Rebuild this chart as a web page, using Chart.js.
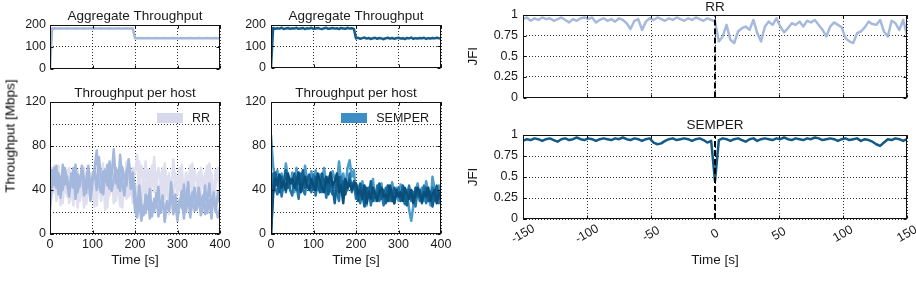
<!DOCTYPE html>
<html>
<head>
<meta charset="utf-8">
<script src="https://cdn.jsdelivr.net/npm/chart.js@4.4.1/dist/chart.umd.min.js"></script>
<style>
  body { margin: 0; background: #fff; width: 916px; height: 282px; overflow: hidden; position: relative;
         font-family: "Liberation Sans", Arial, sans-serif; }
  canvas { position: absolute; }
  .ylab { position: absolute; font-size: 13.5px; color: #000; white-space: nowrap;
          transform: translate(-50%, -50%) rotate(-90deg); }
</style>
</head>
<body>
<canvas id="aggRR" width="232" height="80" style="left:0;top:0"></canvas>
<canvas id="hostRR" width="240" height="202" style="left:0;top:80px"></canvas>
<canvas id="aggSEM" width="232" height="80" style="left:230px;top:0"></canvas>
<canvas id="hostSEM" width="232" height="202" style="left:230px;top:80px"></canvas>
<canvas id="jfiRR" width="456" height="110" style="left:460px;top:0"></canvas>
<canvas id="jfiSEM" width="456" height="172" style="left:460px;top:110px"></canvas>
<div class="ylab" style="left:10px;top:136px">Throughput [Mbps]</div>

<script>
// time axis of the throughput plots, seconds
const hostTime = [0, 5, 10, 15, 20, 25, 30, 35, 40, 45,
  50, 55, 60, 65, 70, 75, 80, 85, 90, 95,
  100, 105, 110, 115, 120, 125, 130, 135, 140, 145,
  150, 155, 160, 165, 170, 175, 180, 185, 190, 195,
  200, 205, 210, 215, 220, 225, 230, 235, 240, 245,
  250, 255, 260, 265, 270, 275, 280, 285, 290, 295,
  300, 305, 310, 315, 320, 325, 330, 335, 340, 345,
  350, 355, 360, 365, 370, 375, 380, 385, 390, 395,
  400];

// aggregate throughput, Mbps
const rrTotal = [0, 184, 185, 184, 184, 185, 184, 184, 185, 184,
  184, 184, 185, 184, 184, 184, 185, 184, 184, 184,
  185, 184, 184, 184, 185, 184, 184, 184, 185, 184,
  184, 184, 185, 184, 184, 184, 185, 184, 184, 184,
  139, 139, 140, 139, 139, 139, 140, 139, 139, 139,
  140, 139, 139, 139, 140, 139, 139, 139, 140, 139,
  139, 139, 140, 139, 139, 139, 140, 139, 139, 139,
  140, 139, 139, 139, 140, 139, 139, 139, 140, 139,
  139];
const semTotal = [0, 186, 182, 185, 183, 187, 181, 184, 186, 182,
  185, 183, 187, 182, 184, 186, 181, 185, 183, 187,
  182, 184, 186, 183, 181, 185, 187, 182, 184, 186,
  183, 185, 181, 186, 184, 182, 187, 183, 185, 182,
  137, 140, 135, 138, 141, 136, 139, 134, 138, 140,
  135, 139, 137, 133, 138, 140, 136, 139, 135, 138,
  140, 136, 138, 134, 139, 137, 141, 135, 138, 136,
  139, 137, 140, 135, 138, 136, 139, 137, 140, 138,
  137];

// per-host throughput, RR (two blue hosts, two lavender hosts)
const rrHostA = [30, 58, 44, 62, 36, 52, 40, 60, 47, 34,
  55, 42, 63, 38, 50, 58, 35, 48, 62, 44,
  52, 60, 76, 45, 38, 57, 49, 63, 41, 54,
  77, 46, 58, 39, 61, 50, 44, 68, 53, 47,
  22, 15, 30, 12, 26, 19, 34, 14, 28, 20,
  37, 16, 25, 32, 13, 29, 21, 40, 18, 27,
  12, 31, 24, 45, 20, 36, 15, 29, 42, 22,
  33, 17, 26, 44, 19, 31, 14, 38, 23, 15,
  24];
const rrHostB = [22, 48, 60, 42, 55, 33, 63, 45, 52, 38,
  46, 60, 32, 54, 43, 62, 50, 37, 57, 30,
  47, 58, 40, 70, 52, 36, 58, 44, 66, 39,
  50, 60, 42, 72, 48, 35, 57, 64, 41, 56,
  38, 20, 44, 25, 17, 36, 23, 41, 16, 32,
  24, 43, 19, 35, 11, 30, 22, 47, 26, 36,
  18, 28, 39, 14, 33, 47, 25, 38, 21, 30,
  42, 26, 35, 18, 29, 46, 24, 34, 20, 38,
  28];
const rrHostC = [25, 40, 62, 30, 48, 26, 55, 38, 58, 28,
  44, 32, 56, 24, 50, 36, 60, 27, 45, 33,
  56, 25, 42, 60, 30, 52, 22, 47, 35, 58,
  28, 54, 38, 46, 24, 56, 32, 50, 36, 60,
  55, 72, 40, 62, 48, 66, 35, 58, 44, 70,
  38, 60, 50, 28, 64, 42, 55, 33, 68, 46,
  52, 40, 63, 30, 56, 45, 62, 36, 58, 48,
  34, 60, 42, 55, 30, 64, 47, 38, 58, 50,
  44];
const rrHostD = [35, 60, 38, 50, 62, 42, 28, 57, 34, 60,
  40, 26, 52, 58, 30, 45, 24, 56, 38, 55,
  32, 48, 26, 55, 44, 64, 36, 24, 56, 42,
  62, 30, 48, 25, 56, 40, 66, 34, 46, 28,
  45, 30, 66, 20, 52, 35, 58, 25, 62, 38,
  56, 22, 45, 60, 32, 50, 18, 44, 30, 55,
  36, 60, 22, 48, 40, 26, 52, 64, 30, 42,
  56, 38, 24, 50, 62, 35, 55, 28, 46, 60,
  40];

// per-host throughput, SEMPER (light to dark)
const semHostA = [90, 62, 48, 58, 40, 55, 46, 64, 50, 42,
  56, 38, 60, 47, 53, 41, 62, 49, 44, 57,
  46, 58, 40, 54, 48, 60, 43, 52, 39, 57,
  50, 44, 66, 48, 55, 42, 60, 67, 52, 58,
  36, 44, 30, 48, 38, 26, 42, 34, 50, 30,
  40, 33, 46, 28, 38, 44, 31, 47, 36, 42,
  30, 45, 35, 28, 40, 22, 12, 26, 38, 46,
  34, 42, 30, 48, 37, 26, 52, 40, 33, 44,
  38];
const semHostB = [30, 55, 42, 36, 50, 34, 47, 38, 53, 40,
  35, 50, 44, 32, 55, 40, 36, 52, 42, 38,
  54, 35, 47, 42, 38, 50, 33, 45, 40, 36,
  48, 38, 30, 52, 36, 44, 40, 55, 38, 46,
  32, 40, 28, 44, 35, 30, 42, 26, 38, 33,
  44, 30, 37, 26, 42, 35, 30, 40, 28, 36,
  42, 32, 38, 27, 35, 44, 30, 38, 25, 40,
  30, 36, 44, 28, 38, 32, 42, 30, 36, 28,
  34];
const semHostC = [0, 44, 56, 48, 38, 52, 44, 58, 42, 50,
  46, 55, 40, 50, 45, 58, 42, 48, 54, 44,
  40, 52, 46, 38, 55, 44, 50, 36, 48, 42,
  28, 46, 52, 40, 48, 36, 45, 50, 42, 48,
  40, 30, 46, 36, 25, 42, 34, 48, 30, 38,
  34, 46, 32, 40, 28, 44, 36, 30, 42, 35,
  38, 30, 44, 34, 26, 40, 36, 30, 42, 34,
  40, 28, 36, 42, 30, 38, 25, 36, 44, 32,
  36];
const semHostD = [0, 36, 50, 44, 54, 42, 48, 40, 55, 46,
  50, 42, 48, 56, 38, 46, 52, 44, 40, 50,
  44, 40, 55, 48, 42, 38, 52, 46, 56, 44,
  48, 55, 38, 44, 28, 50, 42, 46, 40, 45,
  46, 36, 40, 32, 44, 28, 38, 32, 42, 36,
  30, 38, 42, 34, 36, 30, 44, 35, 28, 40,
  34, 38, 30, 42, 36, 32, 40, 28, 36, 42,
  36, 30, 38, 34, 42, 30, 36, 40, 28, 38,
  34];

// Jain's fairness index around the change at t = 0
const jfiTime = [-150, -147, -144, -141, -138, -135, -132, -129, -126, -123,
  -120, -117, -114, -111, -108, -105, -102, -99, -96, -93,
  -90, -87, -84, -81, -78, -75, -72, -69, -66, -63,
  -60, -57, -54, -51, -48, -45, -42, -39, -36, -33,
  -30, -27, -24, -21, -18, -15, -12, -9, -6, -3,
  0,
  3, 6, 9, 12, 15, 18, 21, 24, 27, 30,
  33, 36, 39, 42, 45, 48, 51, 54, 57, 60,
  63, 66, 69, 72, 75, 78, 81, 84, 87, 90,
  93, 96, 99, 102, 105, 108, 111, 114, 117, 120,
  123, 126, 129, 132, 135, 138, 141, 144, 147, 150];
const rrJfi = [0.95, 0.97, 0.93, 0.96, 0.94, 0.97, 0.95, 0.96, 0.93, 0.95,
  0.97, 0.94, 0.91, 0.95, 0.93, 0.96, 0.97, 0.95, 0.97, 0.91,
  0.94, 0.96, 0.93, 0.95, 0.92, 0.96, 0.94, 0.90, 0.83, 0.93,
  0.95, 0.82, 0.92, 0.96, 0.94, 0.97, 0.95, 0.93, 0.96, 0.94,
  0.97, 0.95, 0.93, 0.96, 0.94, 0.97, 0.95, 0.93, 0.96, 0.94,
  0.92,
  0.68, 0.74, 0.88, 0.70, 0.66, 0.80, 0.84, 0.86, 0.82, 0.94,
  0.78, 0.68, 0.86, 0.92, 0.88, 0.96, 0.86, 0.79, 0.84, 0.90,
  0.88, 0.92, 0.86, 0.93, 0.91, 0.94, 0.88, 0.82, 0.74, 0.86,
  0.91, 0.88, 0.85, 0.72, 0.68, 0.66, 0.78, 0.80, 0.85, 0.92,
  0.89, 0.88, 0.94, 0.80, 0.74, 0.93, 0.90, 0.82, 0.94, 0.76];
const semJfi = [0.93, 0.95, 0.94, 0.96, 0.95, 0.93, 0.95, 0.96, 0.94, 0.92,
  0.95, 0.96, 0.94, 0.95, 0.97, 0.95, 0.94, 0.96, 0.95, 0.93,
  0.95, 0.96, 0.95, 0.94, 0.96, 0.95, 0.97, 0.95, 0.94, 0.96,
  0.95, 0.93, 0.95, 0.96, 0.91, 0.89, 0.90, 0.93, 0.95, 0.96,
  0.94, 0.95, 0.96, 0.95, 0.93, 0.95, 0.96, 0.94, 0.91, 0.93,
  0.45,
  0.94, 0.96, 0.95, 0.93, 0.95, 0.96, 0.94, 0.92, 0.95, 0.96,
  0.93, 0.95, 0.96, 0.95, 0.94, 0.96, 0.95, 0.97, 0.95, 0.94,
  0.96, 0.95, 0.94, 0.96, 0.95, 0.97, 0.96, 0.94, 0.95, 0.96,
  0.95, 0.93, 0.95, 0.96, 0.94, 0.95, 0.96, 0.93, 0.95, 0.94,
  0.92, 0.89, 0.87, 0.91, 0.95, 0.94, 0.96, 0.95, 0.93, 0.95];

// vertical marker at t = 0
const markerX = [0, 0];
const markerY = [0, 1];

// grid positions and the subset that carries labels
const hostXTicks = [0, 100, 200, 300, 400];
const aggYTicks = [0, 50, 100, 150, 200];
const aggYLabels = [0, 100, 200];
const hostYTicks = [0, 20, 40, 60, 80, 100, 120];
const hostYLabels = [0, 40, 80, 120];
const jfiTicks = [-150, -100, -50, 0, 50, 100, 150];
const jfiYTicks = [0, 0.25, 0.5, 0.75, 1];

const FONT = '"Liberation Sans", Arial, sans-serif';
Chart.defaults.font.family = FONT;
Chart.defaults.font.size = 12.5;
Chart.defaults.color = '#1a1a1a';
Chart.defaults.animation = false;
Chart.defaults.events = [];
Chart.defaults.plugins.legend.display = false;
Chart.defaults.plugins.tooltip.enabled = false;
Chart.defaults.elements.point.radius = 0;
Chart.defaults.elements.line.tension = 0;
Chart.defaults.elements.line.borderJoinStyle = 'round';

function pts(xs, ys) {
  return xs.map((x, i) => ({ x: x, y: ys[i] }));
}

function line(xs, ys, color, width) {
  return { data: pts(xs, ys), borderColor: color, backgroundColor: color, borderWidth: width, fill: false };
}

function marker() {
  return { data: pts(markerX, markerY), borderColor: '#000', borderWidth: 2, borderDash: [6, 3], fill: false };
}

function title(text, top, bottom) {
  return { display: true, text: text, fullSize: false, color: '#1a1a1a',
           font: { size: 13.5, weight: 'normal', lineHeight: 1 }, padding: { top: top, bottom: bottom } };
}

// o: width|height (fixed axis size), pad, labels (values to print), hide, title, titlePad
function axis(min, max, tickVals, o) {
  const shown = o.labels || tickVals;
  const a = {
    type: 'linear', min: min, max: max,
    grid: { color: 'rgba(0,0,0,0.8)', drawTicks: false },
    border: { display: false, dash: [1, 2] },
    ticks: {
      padding: o.pad || 4,
      display: !o.hide,
      callback: v => (shown.includes(v) ? String(v) : '')
    },
    afterBuildTicks: s => { s.ticks = tickVals.map(v => ({ value: v })); },
    afterFit: o.width ? (s => { s.width = o.width; }) : (s => { s.height = o.height; })
  };
  if (o.title) {
    a.title = { display: true, text: o.title, color: '#1a1a1a', font: { size: 13.5, lineHeight: 1 }, padding: o.titlePad };
  }
  return a;
}

// box around the plot area with small inward ticks
const frame = {
  id: 'frame',
  afterDatasetsDraw(chart) {
    const { ctx, chartArea: a } = chart;
    const sx = chart.scales.x, sy = chart.scales.y;
    ctx.save();
    ctx.strokeStyle = '#111';
    ctx.lineWidth = 1;
    ctx.setLineDash([]);
    const l = Math.round(a.left) + 0.5, t = Math.round(a.top) + 0.5;
    const r = Math.round(a.right) - 0.5, b = Math.round(a.bottom) - 0.5;
    ctx.strokeRect(l, t, r - l, b - t);
    ctx.beginPath();
    sx.ticks.forEach(tk => {
      if (tk.label === '') return;
      const px = Math.round(sx.getPixelForValue(tk.value)) + 0.5;
      ctx.moveTo(px, t); ctx.lineTo(px, t + 3);
      ctx.moveTo(px, b); ctx.lineTo(px, b - 3);
    });
    sy.ticks.forEach(tk => {
      if (tk.label === '') return;
      const py = Math.round(sy.getPixelForValue(tk.value)) + 0.5;
      ctx.moveTo(l, py); ctx.lineTo(l + 3, py);
      ctx.moveTo(r, py); ctx.lineTo(r - 3, py);
    });
    ctx.stroke();
    ctx.restore();
  }
};

// single legend entry inside the top right of the plot area
const boxLegend = {
  id: 'boxLegend',
  afterDraw(chart, args, o) {
    if (!o || !o.text) return;
    const { ctx, chartArea: a } = chart;
    ctx.save();
    ctx.font = '12.5px ' + FONT;
    const w = ctx.measureText(o.text).width;
    const tx = a.right - o.right - w;
    ctx.fillStyle = o.color;
    ctx.fillRect(Math.round(tx - 9 - 26), Math.round(a.top + 11), 26, 10);
    ctx.fillStyle = '#1a1a1a';
    ctx.textBaseline = 'middle';
    ctx.fillText(o.text, tx, a.top + 16.5);
    ctx.restore();
  }
};

// slanted time labels under the lower JFI plot
const slantTicks = {
  id: 'slantTicks',
  afterDraw(chart) {
    const sx = chart.scales.x;
    const ctx = chart.ctx;
    ctx.save();
    ctx.font = '12.5px ' + FONT;
    ctx.fillStyle = '#1a1a1a';
    ctx.textAlign = 'center';
    ctx.textBaseline = 'middle';
    jfiTicks.forEach(v => {
      ctx.save();
      ctx.translate(sx.getPixelForValue(v), chart.chartArea.bottom + 15);
      ctx.rotate(-Math.PI / 6);
      ctx.fillText(String(v), 0, 0);
      ctx.restore();
    });
    ctx.restore();
  }
};

const rrBlue = '#a3b8dc';
const rrLav = '#dfdfef';
const semColors = ['#0b4e79', '#0f6192', '#2176aa', '#4b9bcb'];

new Chart(document.getElementById('aggRR'), {
  type: 'line',
  data: { datasets: [line(hostTime, rrTotal, '#a3b7da', 2.5)] },
  options: {
    responsive: false,
    layout: { padding: { left: 0, right: 12, top: 0, bottom: 0 } },
    plugins: { title: title('Aggregate Throughput', 9.75, 1.75) },
    scales: {
      x: axis(0, 400, hostXTicks, { height: 10, hide: true }),
      y: axis(0, 200, aggYTicks, { width: 50, labels: aggYLabels })
    }
  },
  plugins: [frame]
});

new Chart(document.getElementById('aggSEM'), {
  type: 'line',
  data: { datasets: [line(hostTime, semTotal, '#155d88', 2.5)] },
  options: {
    responsive: false,
    layout: { padding: { left: 0, right: 21, top: 0, bottom: 0 } },
    plugins: { title: title('Aggregate Throughput', 9.75, 1.75) },
    scales: {
      x: axis(0, 400, hostXTicks, { height: 10, hide: true }),
      y: axis(0, 200, aggYTicks, { width: 41, labels: aggYLabels, pad: 5 })
    }
  },
  plugins: [frame]
});

new Chart(document.getElementById('hostRR'), {
  type: 'line',
  data: {
    datasets: [
      line(hostTime, rrHostA, rrBlue, 2.5),
      line(hostTime, rrHostB, rrBlue, 2.5),
      line(hostTime, rrHostC, rrLav, 2.5),
      line(hostTime, rrHostD, rrLav, 2.5)
    ]
  },
  options: {
    responsive: false,
    layout: { padding: { left: 0, right: 20, top: 0, bottom: 0 } },
    plugins: {
      title: title('Throughput per host', 6.25, 2.25),
      boxLegend: { text: 'RR', color: '#d8d8ec', right: 10 }
    },
    scales: {
      x: axis(0, 400, hostXTicks, { height: 48, pad: 3, title: 'Time [s]', titlePad: { top: 0, bottom: 15.25 } }),
      y: axis(0, 120, hostYTicks, { width: 50, labels: hostYLabels })
    }
  },
  plugins: [frame, boxLegend]
});

new Chart(document.getElementById('hostSEM'), {
  type: 'line',
  data: {
    datasets: [
      line(hostTime, semHostD, semColors[0], 2.5),
      line(hostTime, semHostC, semColors[1], 2.5),
      line(hostTime, semHostB, semColors[2], 2.5),
      line(hostTime, semHostA, semColors[3], 2.5)
    ]
  },
  options: {
    responsive: false,
    layout: { padding: { left: 0, right: 21, top: 0, bottom: 0 } },
    plugins: {
      title: title('Throughput per host', 6.25, 2.25),
      boxLegend: { text: 'SEMPER', color: '#3d8ec4', right: 12 }
    },
    scales: {
      x: axis(0, 400, hostXTicks, { height: 48, pad: 3, title: 'Time [s]', titlePad: { top: 0, bottom: 15.25 } }),
      y: axis(0, 120, hostYTicks, { width: 41, labels: hostYLabels, pad: 5 })
    }
  },
  plugins: [frame, boxLegend]
});

new Chart(document.getElementById('jfiRR'), {
  type: 'line',
  data: { datasets: [marker(), line(jfiTime, rrJfi, '#a5b9dc', 2.5)] },
  options: {
    responsive: false,
    layout: { padding: { left: 0, right: 9, top: 0, bottom: 0 } },
    plugins: { title: title('RR', 0.25, 1.25) },
    scales: {
      x: axis(-150, 150, jfiTicks, { height: 11, hide: true }),
      y: axis(0, 1, jfiYTicks, { width: 63, pad: 5, title: 'JFI', titlePad: { top: 7, bottom: 0 } })
    }
  },
  plugins: [frame]
});

new Chart(document.getElementById('jfiSEM'), {
  type: 'line',
  data: { datasets: [marker(), line(jfiTime, semJfi, '#135b86', 2.5)] },
  options: {
    responsive: false,
    layout: { padding: { left: 0, right: 9, top: 0, bottom: 0 } },
    plugins: { title: title('SEMPER', 8.25, 3.25) },
    scales: {
      x: axis(-150, 150, jfiTicks, { height: 63, hide: true, title: 'Time [s]', titlePad: { top: 0, bottom: 15.25 } }),
      y: axis(0, 1, jfiYTicks, { width: 63, pad: 5, title: 'JFI', titlePad: { top: 7, bottom: 0 } })
    }
  },
  plugins: [frame, slantTicks]
});
</script>
</body>
</html>
